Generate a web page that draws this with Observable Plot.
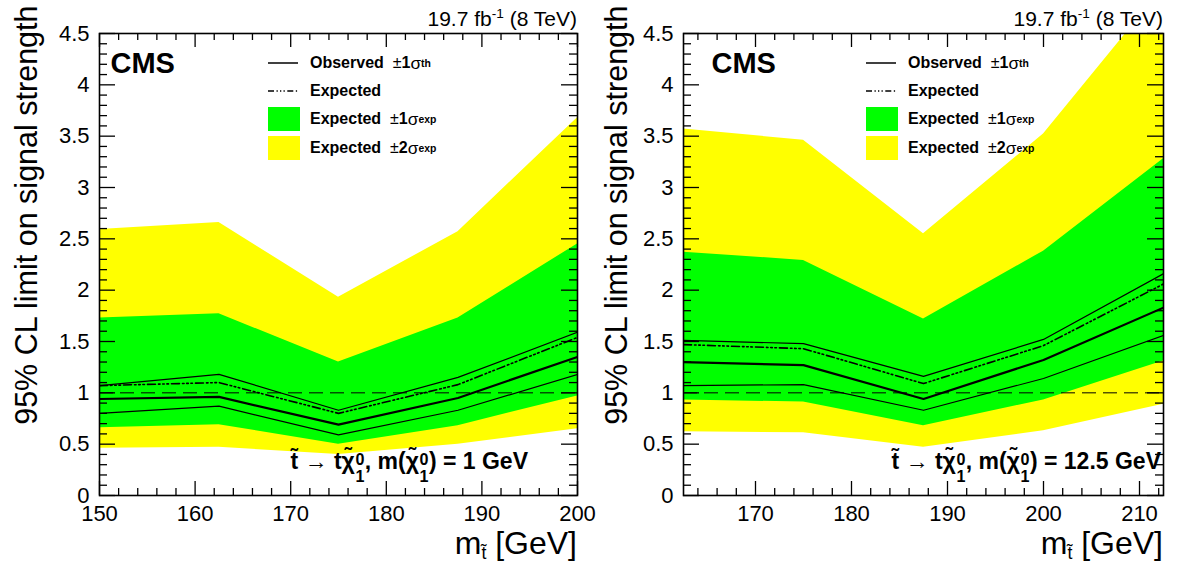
<!DOCTYPE html>
<html><head><meta charset="utf-8">
<script src="https://cdn.jsdelivr.net/npm/d3@7"></script>
<script src="https://cdn.jsdelivr.net/npm/@observablehq/plot@0.6"></script>
<style>
body{margin:0;background:#fff;font-family:"Liberation Sans",Arial,Helvetica,sans-serif;}
#wrap{position:relative;width:1180px;height:563px;overflow:hidden;background:#fff;}
#wrap svg{position:absolute;top:0;}
.t{position:absolute;white-space:nowrap;line-height:1;color:#000;}
.leg{position:absolute;display:flex;align-items:center;height:24px;font-weight:bold;font-size:16px;white-space:nowrap;}
.leg .sw{display:inline-block;width:32px;height:24px;margin-right:10px;}
.leg svg{position:static !important;margin-right:12px;}
.sub{font-size:0.65em;vertical-align:-0.5em;}
.ss{position:relative;display:inline-block;width:0.62em;height:0;font-size:0.7em;}
.ss .sp{position:absolute;left:0.04em;top:-1.15em;line-height:1;}
.ss .sb{position:absolute;left:0.04em;top:-0.05em;line-height:1;}
.sym{font-weight:normal;}
.sig{font-weight:normal;font-size:1.08em;}
</style></head><body><div id="wrap"></div><script>
// ---------- data ----------
const massL   = [150, 162.5, 175, 187.5, 200];
const exp2UpL = [2.59, 2.66, 1.93, 2.57, 3.68];
const exp2DnL = [0.46, 0.47, 0.40, 0.50, 0.65];
const exp1UpL = [1.73, 1.77, 1.30, 1.73, 2.45];
const exp1DnL = [0.66, 0.69, 0.50, 0.68, 0.97];
const expL    = [1.07, 1.10, 0.80, 1.08, 1.54];
const obsL    = [0.94, 0.96, 0.69, 0.95, 1.35];
const obsUpL  = [1.07, 1.18, 0.83, 1.15, 1.59];
const obsDnL  = [0.80, 0.87, 0.59, 0.83, 1.18];

const massR   = [162.5, 175, 187.5, 200, 212.5];
const exp2UpR = [3.57, 3.46, 2.55, 3.52, 4.95];
const exp2DnR = [0.62, 0.61, 0.47, 0.63, 0.89];
const exp1UpR = [2.37, 2.29, 1.72, 2.38, 3.28];
const exp1DnR = [0.93, 0.91, 0.68, 0.93, 1.31];
const expR    = [1.47, 1.43, 1.09, 1.46, 2.06];
const obsR    = [1.30, 1.27, 0.94, 1.32, 1.83];
const obsUpR  = [1.51, 1.48, 1.16, 1.52, 2.16];
const obsDnR  = [1.07, 1.08, 0.83, 1.14, 1.56];

const yTicks  = [0, 0.5, 1, 1.5, 2, 2.5, 3, 3.5, 4, 4.5];
const xTicksL = [150, 160, 170, 180, 190, 200];
const xTicksR = [170, 180, 190, 200, 210];
const yTitle  = "95% CL limit on signal strength";
const limitRef = [1];

const FONT = '"Liberation Sans", Arial, Helvetica, sans-serif';
const H = 563, MT = 33, MB = 68;

function rowsOf(m, y2u, y2d, y1u, y1d, ex, ob, obu, obd) {
  return m.map((v, i) => ({m: v, y2u: y2u[i], y2d: y2d[i], y1u: y1u[i], y1d: y1d[i],
    exp: ex[i], obs: ob[i], obsUp: obu[i], obsDn: obd[i]}));
}

function panel({rows, xDomain, xTicks, width, marginLeft, marginRight, cmsDx, yTitleDx}) {
  const fw = width - marginLeft - marginRight, fh = H - MT - MB;
  const xMinor = d3.range(Math.ceil(xDomain[0] / 2) * 2, xDomain[1] + 1e-6, 2).filter(v => v % 10 !== 0);
  const yMinor = d3.range(0, 4.5001, 0.1).map(v => +v.toFixed(1)).filter(v => !yTicks.includes(v));
  const tk = {stroke: "#000", strokeWidth: 1.3};
  return Plot.plot({
    width, height: H, marginLeft, marginRight, marginTop: MT, marginBottom: MB,
    x: {domain: xDomain}, y: {domain: [0, 4.5]},
    style: {fontFamily: FONT, fontSize: "22px", background: "transparent", color: "#000", overflow: "visible"},
    marks: [
      Plot.areaY(rows, {x: "m", y1: "y2d", y2: "y2u", fill: "#ffff00", clip: true}),
      Plot.areaY(rows, {x: "m", y1: "y1d", y2: "y1u", fill: "#00ff00", clip: true}),
      Plot.ruleY(limitRef, {stroke: "#000", strokeWidth: 1, strokeDasharray: "14,7"}),
      Plot.line(rows, {x: "m", y: "obsUp", stroke: "#000", strokeWidth: 1.2, clip: true}),
      Plot.line(rows, {x: "m", y: "obsDn", stroke: "#000", strokeWidth: 1.2, clip: true}),
      Plot.line(rows, {x: "m", y: "exp", stroke: "#000", strokeWidth: 1.6, clip: true,
        strokeDasharray: "8,3,1.6,2.6,1.6,2.6,1.6,3"}),
      Plot.line(rows, {x: "m", y: "obs", stroke: "#000", strokeWidth: 2.2, clip: true}),
      // inward ticks on all four sides
      Plot.tickY(yTicks, {y: d => d, insetRight: fw - 16, ...tk}),
      Plot.tickY(yMinor, {y: d => d, insetRight: fw - 8, ...tk}),
      Plot.tickY(yTicks, {y: d => d, insetLeft: fw - 16, ...tk}),
      Plot.tickY(yMinor, {y: d => d, insetLeft: fw - 8, ...tk}),
      Plot.tickX(xTicks, {x: d => d, insetTop: fh - 14, ...tk}),
      Plot.tickX(xMinor, {x: d => d, insetTop: fh - 7, ...tk}),
      Plot.tickX(xTicks, {x: d => d, insetBottom: fh - 14, ...tk}),
      Plot.tickX(xMinor, {x: d => d, insetBottom: fh - 7, ...tk}),
      Plot.frame({stroke: "#000", strokeWidth: 1.6}),
      Plot.axisY({ticks: yTicks, tickSize: 0, tickPadding: 10, label: null, fontSize: 22,
        tickFormat: d => String(d)}),
      Plot.axisX({ticks: xTicks, tickSize: 0, tickPadding: 10, label: null, fontSize: 22,
        tickFormat: d => String(d)}),
      Plot.text(["CMS"], {text: d => d, frameAnchor: "top-left", dx: cmsDx, dy: 30,
        textAnchor: "start", lineAnchor: "middle", fontWeight: "bold", fontSize: 29}),
      Plot.text([yTitle], {text: d => d, frameAnchor: "top-left", dx: yTitleDx, dy: -28,
        rotate: -90, textAnchor: "end", lineAnchor: "middle", fontSize: 30.5})
    ]
  });
}

const wrap = document.getElementById("wrap");
const left = panel({
  rows: rowsOf(massL, exp2UpL, exp2DnL, exp1UpL, exp1DnL, expL, obsL, obsUpL, obsDnL),
  xDomain: [150, 200], xTicks: xTicksL, width: 600, marginLeft: 99, marginRight: 23,
  cmsDx: 11, yTitleDx: -72
});
left.style.left = "0px";
const right = panel({
  rows: rowsOf(massR, exp2UpR, exp2DnR, exp1UpR, exp1DnR, expR, obsR, obsUpR, obsDnR),
  xDomain: [162.5, 212.5], xTicks: xTicksR, width: 590, marginLeft: 93, marginRight: 17,
  cmsDx: 28, yTitleDx: -66
});
right.style.left = "590px";
wrap.appendChild(left);
wrap.appendChild(right);

// ---------- text overlays ----------
function addDiv(cls, html, css) {
  const d = document.createElement("div");
  d.className = cls; d.innerHTML = html;
  Object.assign(d.style, css);
  wrap.appendChild(d);
  return d;
}
const expDash = '<svg width="30" height="4"><line x1="0" y1="2" x2="30" y2="2" stroke="#000" stroke-width="1.5" stroke-dasharray="6,2.5,1.3,2.2,1.3,2.2,1.3,2.5"/></svg>';
const solid = '<svg width="30" height="4"><line x1="0" y1="2" x2="30" y2="2" stroke="#000" stroke-width="1.5"/></svg>';
const chi = 'χ\u0303<span class="ss"><span class="sp">0</span><span class="sb">1</span></span>';

function overlay(ox, frameRight, annRight, lspMass) {
  const lx = ox;
  addDiv("leg", solid + 'Observed &nbsp;<span class="sym">±</span>1<span class="sig">σ</span><span class="sub">th</span>', {left: (268 + lx) + "px", top: "51px"});
  addDiv("leg", expDash + 'Expected', {left: (268 + lx) + "px", top: "79px"});
  addDiv("leg", '<span class="sw" style="background:#00ff00"></span>Expected &nbsp;<span class="sym">±</span>1<span class="sig">σ</span><span class="sub">exp</span>', {left: (268 + lx) + "px", top: "107px"});
  addDiv("leg", '<span class="sw" style="background:#ffff00"></span>Expected &nbsp;<span class="sym">±</span>2<span class="sig">σ</span><span class="sub">exp</span>', {left: (268 + lx) + "px", top: "136px"});
  addDiv("t", '19.7 fb<span style="font-size:0.65em;vertical-align:0.6em">-1</span> (8 TeV)',
    {right: (1180 - frameRight) + "px", top: "7px", fontSize: "21px"});
  addDiv("t", 'm<span style="font-size:0.55em;vertical-align:-0.28em;line-height:1">t\u0303</span> [GeV]',
    {right: (1180 - frameRight) + "px", top: "527px", fontSize: "32px"});
  addDiv("t", 't\u0303 <span class="sym">→</span> t' + chi + ', m(' + chi + ') = ' + lspMass + ' GeV',
    {right: (1180 - annRight) + "px", top: "450px", fontSize: "23px", fontWeight: "bold"});
}
overlay(0, 577, 528, "1");
overlay(598, 1163, 1161, "12.5");
</script></body></html>
